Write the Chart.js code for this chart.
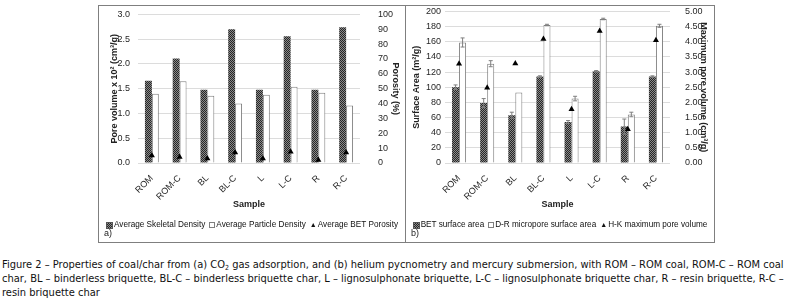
<!DOCTYPE html>
<html>
<head>
<meta charset="utf-8">
<script src="https://cdn.jsdelivr.net/npm/chart.js@4"></script>
<style>
  body { margin: 0; background: #fff; width: 790px; height: 307px; overflow: hidden; position: relative; }
  #frame { position: absolute; left: 98px; top: 5px; width: 615px; height: 236px; border: 1px solid #7f7f7f; }
  #divider { position: absolute; left: 405px; top: 5px; width: 1px; height: 237px; background: #7f7f7f; }
  .panel { position: absolute; top: 6px; height: 236px; }
  #pa { left: 99px; width: 306px; }
  #pb { left: 406px; width: 308px; }
  .panel canvas { position: absolute; left: 0; top: -7px; }
  .xtitle { position: absolute; top: 199px; width: 60px; text-align: center;
            font: bold 9px 'Liberation Sans', Arial, sans-serif; line-height: 10px; color: #222; }
  .tag { position: absolute; top: 222px; font: 9px 'Liberation Sans', Arial, sans-serif; color: #222; }
  .legend { position: absolute; top: 214px; left: 0; right: 0; display: flex; justify-content: center; gap: 4px;
            font: 8.2px 'Liberation Sans', Arial, sans-serif; color: #111; white-space: nowrap; line-height: 10px; }
  .legend span { display: inline-flex; align-items: center; }
  .sw { display: inline-block; width: 5px; height: 5px; margin-right: 1px; }
  .sw.hatch { background: repeating-conic-gradient(#262626 0 25%, #8a8a8a 0 50%) 0 0 / 2px 2px; border: 0.5px solid #555; }
  .sw.box { background: #fff; border: 1px solid #7f7f7f; width: 4px; height: 4px; }
  .tri { font-size: 7px; margin-right: 1px; }
  #caption { position: absolute; left: 2px; top: 258px; font-family: 'Liberation Sans Narrow', 'Arial Narrow', 'DejaVu Sans Condensed', sans-serif;
             font-size: 11px; line-height: 14px; white-space: nowrap; color: #111; }
  #caption sub { font-size: 7px; vertical-align: -2px; line-height: 0; }
</style>
</head>
<body>
<div id="frame"></div>
<div id="divider"></div>
<div class="panel" id="pa">
  <canvas id="chart_a" width="306" height="245"></canvas>
  <div class="legend" id="legend_a"></div>
  <div class="tag" style="left:5px">a)</div>
</div>
<div class="panel" id="pb">
  <canvas id="chart_b" width="308" height="245"></canvas>
  <div class="legend" id="legend_b"></div>
  <div class="tag" style="left:5px">b)</div>
</div>
<div class="xtitle" id="xt_a">Sample</div>
<div class="xtitle" id="xt_b">Sample</div>
<div id="caption">Figure 2 – Properties of coal/char from (a) CO<sub>2</sub> gas adsorption, and (b) helium pycnometry and mercury submersion, with ROM – ROM coal, ROM-C – ROM coal<br>char, BL – binderless briquette, BL-C – binderless briquette char, L – lignosulphonate briquette, L-C – lignosulphonate briquette char, R – resin briquette, R-C –<br>resin briquette char</div>

<script>
  // data
  const samples = ['ROM', 'ROM-C', 'BL', 'BL-C', 'L', 'L-C', 'R', 'R-C'];

  const skeletal = [1.66, 2.11, 1.48, 2.70, 1.48, 2.56, 1.48, 2.74];
  const particle = [1.40, 1.65, 1.36, 1.20, 1.38, 1.54, 1.42, 1.16];
  const porosity = [5, 4, 3, 7, 3, 7.5, 2, 7];

  const betArea = [100, 79, 63, 114, 54, 121, 48, 114];
  const betErr = [3, 6, 4, 1, 2, 1, 10, 1];
  const drArea = [159, 131, 93, 182, 85, 190, 64, 181];
  const drErr = [6, 4, 0, 1, 3, 1, 3, 2];
  const hkVolume = [3.27, 2.48, 3.28, 4.09, 1.77, 4.35, 1.11, 4.05];

  Chart.defaults.font.family = "'Liberation Sans', Arial, sans-serif"
  Chart.defaults.font.size = 9
  Chart.defaults.color = '#262626'
  Chart.defaults.animation = false

  // dark cross hatch like the excel fill
  function hatch() {
    const c = document.createElement('canvas');
    c.width = 2; c.height = 2;
    const g = c.getContext('2d');
    g.fillStyle = '#8a8a8a'; g.fillRect(0, 0, 2, 2);
    g.fillStyle = '#262626'; g.fillRect(0, 0, 1, 1); g.fillRect(1, 1, 1, 1);
    return g.createPattern(c, 'repeat');
  }

  const errorBars = {
    id: 'errorBars',
    afterDatasetsDraw(chart) {
      const ctx = chart.ctx;
      chart.data.datasets.forEach((ds, i) => {
        if (!ds.errors) return;
        const meta = chart.getDatasetMeta(i);
        const ys = chart.scales[meta.yAxisID];
        meta.data.forEach((bar, j) => {
          const e = ds.errors[j];
          if (!e) return;
          const top = ys.getPixelForValue(ds.data[j] + e);
          const bot = ys.getPixelForValue(ds.data[j] - e);
          ctx.save();
          ctx.strokeStyle = '#7f7f7f';
          ctx.lineWidth = 1;
          ctx.beginPath();
          ctx.moveTo(bar.x, top); ctx.lineTo(bar.x, bot);
          ctx.moveTo(bar.x - 2, top); ctx.lineTo(bar.x + 2, top);
          ctx.moveTo(bar.x - 2, bot); ctx.lineTo(bar.x + 2, bot);
          ctx.stroke();
          ctx.restore();
        });
      });
    }
  };

  // html legend in one row like the excel one, x title centred under the plot
  function legend(id, chart, xt, panelLeft) {
    const kinds = ['hatch', 'box', 'tri'];
    document.getElementById(id).innerHTML = chart.data.datasets.map((ds, i) =>
      kinds[i] == 'tri'
        ? '<span><span class="tri">▲</span>' + ds.label + '</span>'
        : '<span><span class="sw ' + kinds[i] + '"></span>' + ds.label + '</span>'
    ).join('');
    const area = chart.chartArea;
    document.getElementById(xt).style.left = (panelLeft + (area.left + area.right) / 2 - 30) + 'px';
  }

  function options(left, right, rightW) {
    return {
      responsive: false,
      layout: { padding: { top: 0, bottom: 34, left: 0, right: 0 } },
      plugins: {
        tooltip: { enabled: false },
        legend: { display: false }
      },
      scales: {
        x: {
          grid: { display: false },
          border: { display: false },
          ticks: { minRotation: 45, maxRotation: 45, padding: 2 },
          afterFit: s => { s.height = 47 }
        },
        y: Object.assign({
          position: 'left',
          grid: { color: '#dcdcdc', drawTicks: false },
          border: { display: false },
          afterFit: s => { s.width = 39 }
        }, left),
        y1: Object.assign({
          position: 'right',
          grid: { display: false },
          border: { display: false },
          afterFit: s => { s.width = rightW }
        }, right)
      }
    };
  }

  /* =================================== */

  const chart_a = document.getElementById('chart_a');

  const ca = new Chart(chart_a, {
    type: 'bar',
    data: {
      labels: samples,
      datasets: [{
        label: 'Average Skeletal Density',
        data: skeletal,
        backgroundColor: hatch(),
        barPercentage: 1, categoryPercentage: 0.5,
        yAxisID: 'y'
      }, {
        label: 'Average Particle Density',
        data: particle,
        backgroundColor: '#fff',
        borderColor: '#7f7f7f',
        borderWidth: 1,
        barPercentage: 1, categoryPercentage: 0.5,
        yAxisID: 'y'
      }, {
        type: 'line',
        label: 'Average BET Porosity',
        data: porosity,
        showLine: false,
        pointStyle: 'triangle',
        pointRadius: 3.5,
        backgroundColor: '#000',
        borderColor: '#000',
        borderWidth: 0,
        order: -1,
        yAxisID: 'y1'
      }]
    },
    options: options({
      min: 0, max: 3,
      ticks: { stepSize: 0.5, padding: 8, callback: v => v.toFixed(1) },
      title: { display: true, text: 'Pore volume x 10² (cm³/g)', font: { size: 9, weight: 'bold' }, color: '#222', padding: { top: 10, bottom: 0 } }
    }, {
      min: 0, max: 100,
      ticks: { stepSize: 10, padding: 10 },
      title: { display: true, text: 'Porosity (%)', font: { size: 9, weight: 'bold' }, color: '#222', padding: { top: 4, bottom: 0 } }
    }, 45)
  });
  legend('legend_a', ca, 'xt_a', 99);

  /* =================================== */

  const chart_b = document.getElementById('chart_b');

  const cb = new Chart(chart_b, {
    type: 'bar',
    data: {
      labels: samples,
      datasets: [{
        label: 'BET surface area',
        data: betArea,
        errors: betErr,
        backgroundColor: hatch(),
        barPercentage: 1, categoryPercentage: 0.5,
        yAxisID: 'y'
      }, {
        label: 'D-R micropore surface area',
        data: drArea,
        errors: drErr,
        backgroundColor: '#fff',
        borderColor: '#7f7f7f',
        borderWidth: 1,
        barPercentage: 1, categoryPercentage: 0.5,
        yAxisID: 'y'
      }, {
        type: 'line',
        label: 'H-K maximum pore volume',
        data: hkVolume,
        showLine: false,
        pointStyle: 'triangle',
        pointRadius: 3.5,
        backgroundColor: '#000',
        borderColor: '#000',
        borderWidth: 0,
        order: -1,
        yAxisID: 'y1'
      }]
    },
    options: options({
      min: 0, max: 200,
      ticks: { stepSize: 20, padding: 4 },
      title: { display: true, text: 'Surface Area (m²/g)', font: { size: 9, weight: 'bold' }, color: '#222', padding: { top: 5, bottom: 0 } }
    }, {
      min: 0, max: 5,
      ticks: { stepSize: 0.5, padding: 7, callback: v => v.toFixed(2) },
      title: { display: true, text: 'Maximum pore volume (cm³/g)', font: { size: 9, weight: 'bold' }, color: '#222', padding: { top: 5, bottom: 0 } }
    }, 44),
    plugins: [errorBars]
  });
  legend('legend_b', cb, 'xt_b', 406);
</script>
</body>
</html>
